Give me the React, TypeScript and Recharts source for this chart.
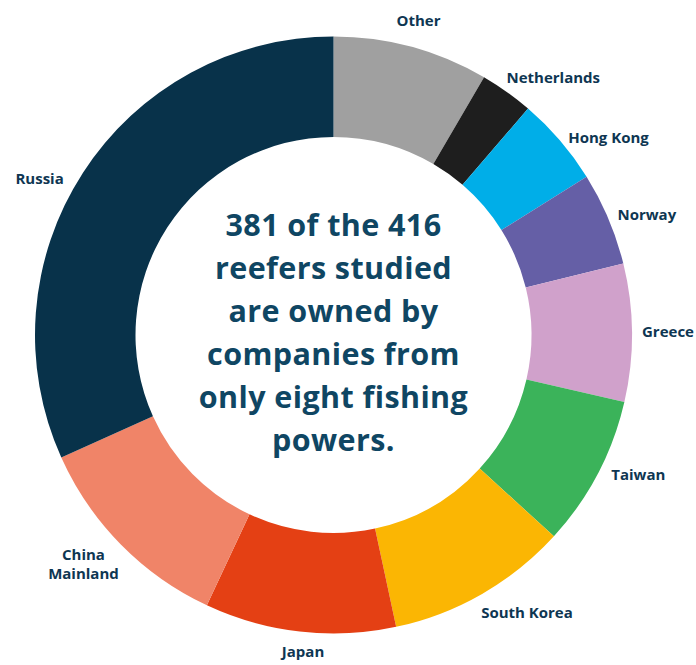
import { Cell, Pie, PieChart } from "recharts";

const categories = [
  "Other",
  "Netherlands",
  "Hong Kong",
  "Norway",
  "Greece",
  "Taiwan",
  "South Korea",
  "Japan",
  "China Mainland",
  "Russia",
];
const reefers = [35, 12, 20, 21, 31, 34, 41, 43, 47, 132];
const headline = [
  "381 of the 416",
  "reefers studied",
  "are owned by",
  "companies from",
  "only eight fishing",
  "powers.",
];

const COLORS: Record<string, string> = {
  Other: "#a0a0a0",
  Netherlands: "#1e1e1e",
  "Hong Kong": "#00aee8",
  Norway: "#655fa6",
  Greece: "#d0a1cb",
  Taiwan: "#3bb35a",
  "South Korea": "#fbb603",
  Japan: "#e44014",
  "China Mainland": "#f08468",
  Russia: "#08324a",
};

// small nudges so labels sit where the original put them: [degrees, extra px]
const LABEL_NUDGE: Record<string, [number, number]> = {
  Other: [0, 27],
  Netherlands: [5, 40],
  "Hong Kong": [5, 40],
  Norway: [2, 37],
  Greece: [0, 36],
  Taiwan: [-3, 37],
  "South Korea": [-5, 40],
  Japan: [-1, 20],
  "China Mainland": [2, 41],
  Russia: [-5, 34],
};

// chart fills the whole window (body margin removed below)
const W = 696;
const H = 665;
const CX = 333.5;
const CY = 335;
const TEXT = "#0e3652";
const HEAD = "#0f4663";
const FONT = "'Open Sans', sans-serif";

const data = categories.map((name, i) => ({ name, value: reefers[i] }));

function renderLabel(props: any) {
  const { cx, cy, midAngle, outerRadius, name } = props;
  const [dA, dR] = LABEL_NUDGE[name] ?? [0, 35];
  const theta = ((90 - midAngle + dA) * Math.PI) / 180;
  const r = outerRadius + dR;
  const x = cx + r * Math.sin(theta);
  const y = cy - r * Math.cos(theta);
  const words = name === "China Mainland" ? ["China", "Mainland"] : [name];
  const lh = 19;
  return (
    <text
      x={x}
      y={y}
      textAnchor="middle"
      fill={TEXT}
      fontSize={15}
      fontWeight={700}
      fontFamily={FONT}
    >
      {words.map((w, i) => (
        <tspan key={w} x={x} y={y + 5 + (i - (words.length - 1) / 2) * lh}>
          {w}
        </tspan>
      ))}
    </text>
  );
}

export default function App() {
  return (
    <>
      <style>{"html,body{margin:0;padding:0;overflow:hidden}"}</style>
      <div style={{ position: "relative", width: W, height: H }}>
        <PieChart width={W} height={H} margin={{ top: 0, right: 0, bottom: 0, left: 0 }}>
          <Pie
            data={data}
            dataKey="value"
            nameKey="name"
            cx={CX}
            cy={CY}
            innerRadius={198}
            outerRadius={298.5}
            startAngle={90}
            endAngle={-270}
            stroke="none"
            label={renderLabel}
            labelLine={false}
            isAnimationActive={false}
          >
            {data.map((d) => (
              <Cell key={d.name} fill={COLORS[d.name]} />
            ))}
          </Pie>
        </PieChart>
        <svg
          width={W}
          height={H}
          style={{ position: "absolute", left: 0, top: 0, pointerEvents: "none" }}
        >
          <text
            textAnchor="middle"
            fill={HEAD}
            fontSize={30.5}
            fontWeight={700}
            letterSpacing={0.4}
            fontFamily={FONT}
          >
            {headline.map((line, i) => (
              <tspan key={line} x={CX} y={CY - 99 + i * 43}>
                {line}
              </tspan>
            ))}
          </text>
        </svg>
      </div>
    </>
  );
}
